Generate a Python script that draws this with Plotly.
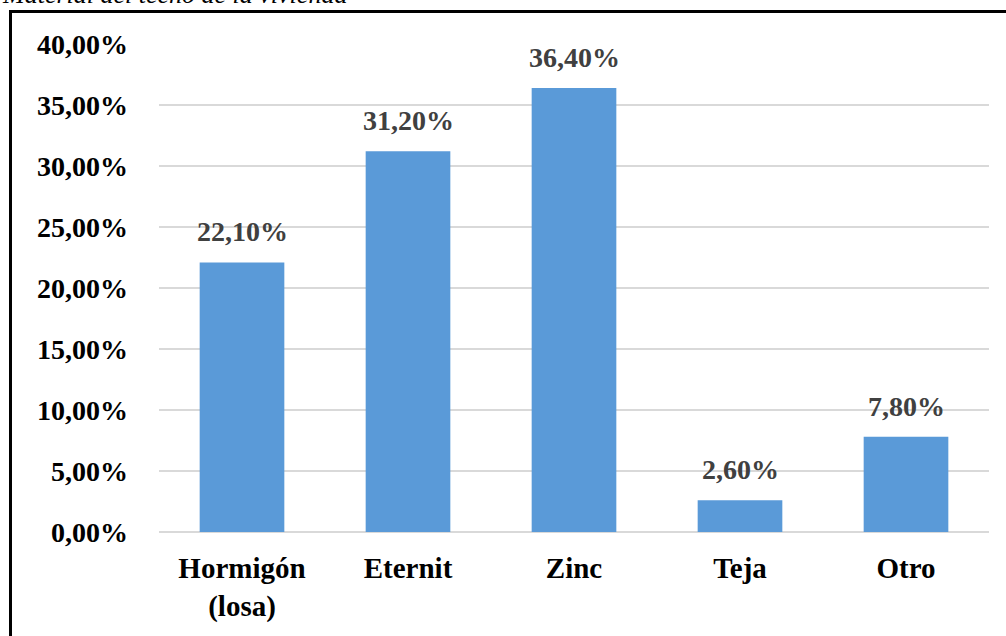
import plotly.graph_objects as go

categories = ["Hormigón<br>(losa)", "Eternit", "Zinc", "Teja", "Otro"]
values = [0.221, 0.312, 0.364, 0.026, 0.078]
value_labels = ["22,10%", "31,20%", "36,40%", "2,60%", "7,80%"]
y_ticks = [0, 0.05, 0.10, 0.15, 0.20, 0.25, 0.30, 0.35, 0.40]
title_text = "Material del techo de la vivienda"

W, H = 1006, 636
L, R, T, B = 159, 17, 44, 104
pw, ph = W - L - R, H - T - B

def px(x):
    return (x - L) / pw

def py(y):
    return (H - B - y) / ph

font_family = "Liberation Serif"

fig = go.Figure()
fig.add_trace(go.Bar(
    x=categories, y=values,
    marker=dict(color="#5a9ad8", line=dict(width=0)),
    width=0.51,
    hoverinfo="skip",
))

annotations = [dict(
    x=c, y=v, xref="x", yref="y", text=t, showarrow=False,
    yanchor="bottom", yshift=13,
    font=dict(family=font_family, size=28, color="#404040", weight="bold"),
) for c, v, t in zip(categories, values, value_labels)]

annotations.append(dict(
    text=title_text, xref="paper", yref="paper",
    x=px(0), y=py(11), xanchor="left", yanchor="bottom",
    showarrow=False,
    font=dict(family=font_family, size=26, color="black", style="italic"),
))

fig.update_layout(
    width=W, height=H,
    margin=dict(l=L, r=R, t=T, b=B),
    paper_bgcolor="white", plot_bgcolor="white",
    separators=",.",
    showlegend=False,
    xaxis=dict(
        tickfont=dict(family=font_family, size=29, color="black", weight="bold"),
        showgrid=False, showline=False, ticks="",
        ticklabelstandoff=16,
    ),
    yaxis=dict(
        range=[0, 0.40], tickvals=y_ticks, tickformat=".2%",
        tickfont=dict(family=font_family, size=28, color="black", weight="bold"),
        showgrid=True, gridcolor="#d9d9d9", gridwidth=2,
        zeroline=True, zerolinecolor="#d9d9d9", zerolinewidth=2,
        showline=False, ticks="", ticklabelstandoff=30,
    ),
    annotations=annotations,
    shapes=[dict(
        type="rect", xref="paper", yref="paper",
        x0=px(10.5), x1=px(1012), y0=py(11.5), y1=py(645),
        line=dict(color="black", width=3), fillcolor="rgba(0,0,0,0)",
        layer="above",
    )],
)

fig.write_html(
    "out.html",
    config={"displayModeBar": False},
    post_script="document.body.style.margin='0';document.body.style.overflow='hidden';",
)
